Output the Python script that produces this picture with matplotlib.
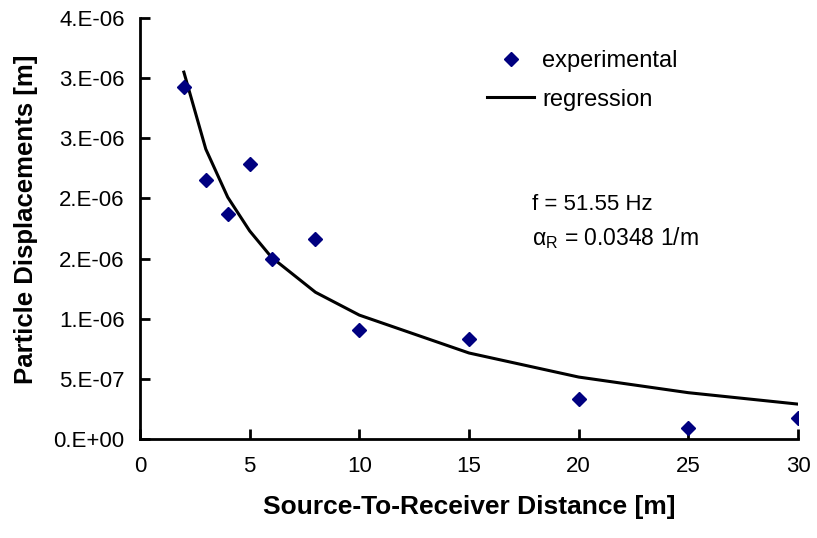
import numpy as np
import matplotlib
matplotlib.use("Agg")
import matplotlib.pyplot as plt
from matplotlib.ticker import FixedLocator, FixedFormatter

plt.rcParams['font.family'] = ['Liberation Sans', 'DejaVu Sans']
plt.rcParams['mathtext.fontset'] = 'custom'
plt.rcParams['mathtext.rm'] = 'Liberation Sans'
plt.rcParams['mathtext.it'] = 'Liberation Sans'

# measured data
distance = [2, 3, 4, 5, 6, 8, 10, 15, 20, 25, 30]
displacement = [2.93e-6, 2.15e-6, 1.87e-6, 2.29e-6, 1.50e-6, 1.66e-6,
                0.905e-6, 0.83e-6, 0.335e-6, 0.09e-6, 0.175e-6]

# regression curve
reg_distance = [2, 3, 4, 5, 6, 8, 10, 15, 20, 25, 30]
reg_displacement = [3.05e-6, 2.41e-6, 2.01e-6, 1.73e-6, 1.51e-6, 1.22e-6,
                    1.03e-6, 0.715e-6, 0.515e-6, 0.385e-6, 0.29e-6]

y_ticks = [0, 5e-7, 1e-6, 1.5e-6, 2e-6, 2.5e-6, 3e-6, 3.5e-6]
y_tick_labels = ["0.E+00", "5.E-07", "1.E-06", "2.E-06", "2.E-06",
                 "3.E-06", "3.E-06", "4.E-06"]
x_ticks = [0, 5, 10, 15, 20, 25, 30]

fig = plt.figure(figsize=(8.17, 5.38), dpi=100)
ax = fig.add_axes([140 / 817, 99 / 538, 658 / 817, 421 / 538])

ax.plot(distance, displacement, linestyle='none', marker='D', color='#000080',
        markersize=7.5, label='experimental', zorder=3)
ax.plot(reg_distance, reg_displacement, color='black', linewidth=2.2,
        label='regression', zorder=2)

ax.set_xlim(0, 30)
ax.set_ylim(0, 3.5e-6)
ax.xaxis.set_major_locator(FixedLocator(x_ticks))
ax.yaxis.set_major_locator(FixedLocator(y_ticks))
ax.yaxis.set_major_formatter(FixedFormatter(y_tick_labels))

for side in ['top', 'right']:
    ax.spines[side].set_visible(False)
for side in ['left', 'bottom']:
    ax.spines[side].set_linewidth(2)
ax.tick_params(direction='in', length=7, width=2, labelsize=16)
ax.tick_params(axis='x', pad=12)
ax.tick_params(axis='y', pad=11)

ax.set_xlabel('Source-To-Receiver Distance [m]', fontsize=19, fontweight='bold', labelpad=13)
ax.set_ylabel('Particle Displacements [m]', fontsize=18.5, fontweight='bold')
ax.yaxis.set_label_coords(-0.155, 0.522)

ax.legend(loc='center left', bbox_to_anchor=(0.495, 0.852), frameon=False,
          fontsize=17, handlelength=2.0, handletextpad=0.35, labelspacing=0.7)

ax.text(0.596, 0.556, 'f = 51.55 Hz', transform=ax.transAxes, fontsize=16, va='center')
ax.text(0.596, 0.477, r'$\mathrm{\alpha_R}$ = 0.0348 1/m', transform=ax.transAxes,
        fontsize=16.5, va='center')

fig.savefig('out.png', dpi=100)
